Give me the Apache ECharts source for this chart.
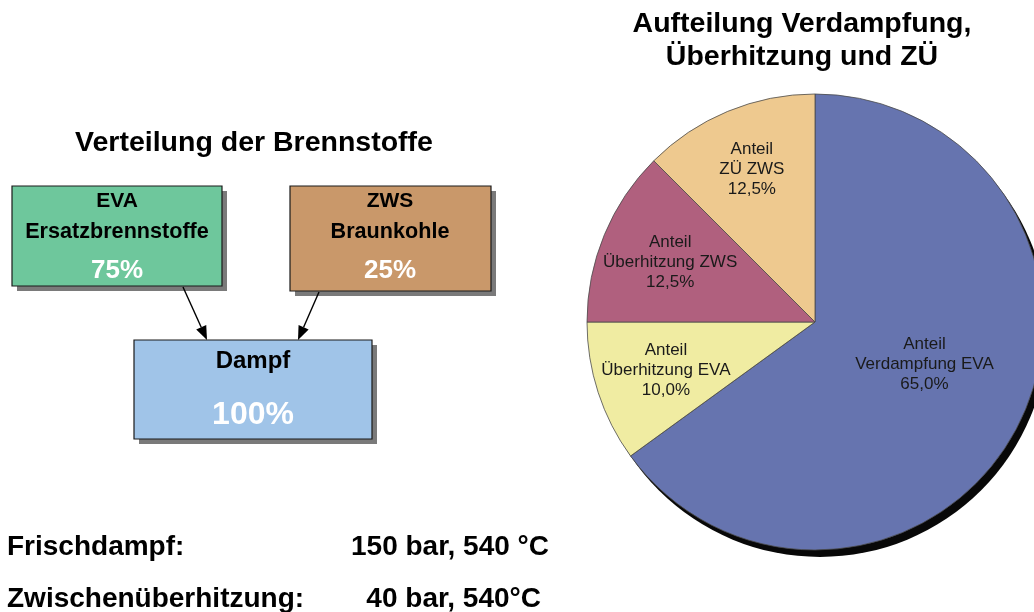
<!DOCTYPE html>
<html><head><meta charset="utf-8">
<script src="https://cdn.jsdelivr.net/npm/echarts@6/dist/echarts.min.js"></script>
<style>html,body{margin:0;padding:0;background:#fff}#c{width:1034px;height:612px}</style>
</head><body><div id="c"></div>
<script>
// ---- data ----
const pieNames = ['Anteil\nVerdampfung EVA', 'Anteil\nÜberhitzung EVA', 'Anteil\nÜberhitzung ZWS', 'Anteil\nZÜ ZWS'];
const pieValues = [65.0, 10.0, 12.5, 12.5];
const fuelTitles = ['EVA', 'ZWS'];
const fuelNames = ['Ersatzbrennstoffe', 'Braunkohle'];
const fuelShares = [75, 25];
const steamTitle = 'Dampf';
const paramLabels = ['Frischdampf:', 'Zwischenüberhitzung:'];
const paramValues = ['150 bar, 540 °C', '40 bar, 540°C'];

const FONT = '"Liberation Sans", Arial, Helvetica, sans-serif';
const pieColors = ['#6674AF', '#F0ECA2', '#B0607E', '#EEC98F'];
const boxColors = ['#6EC79C', '#C9986A'];
const cx = 815, cy = 322, R = 228;

const chart = echarts.init(document.getElementById('c'), null, {renderer: 'canvas'});

function txt(x, y, s, size, color, align) {
  return {type: 'text', z: 20, style: {x: x, y: y, text: s, fill: color || '#000',
    font: 'bold ' + size + 'px ' + FONT, textAlign: align || 'center', textVerticalAlign: 'middle'}};
}
function box(x, y, w, h, fill) {
  return [
    {type: 'rect', z: 5, shape: {x: x + 5, y: y + 5, width: w, height: h}, style: {fill: '#7a7a7a'}},
    {type: 'rect', z: 6, shape: {x: x, y: y, width: w, height: h}, style: {fill: fill, stroke: '#1a1a1a', lineWidth: 1.2}}
  ];
}
function arrow(x1, y1, x2, y2) {
  const a = Math.atan2(y2 - y1, x2 - x1), L = 14, W = 5.5;
  const bx = x2 - L * Math.cos(a), by = y2 - L * Math.sin(a);
  return [
    {type: 'line', z: 8, shape: {x1: x1, y1: y1, x2: bx, y2: by}, style: {stroke: '#000', lineWidth: 1.4}},
    {type: 'polygon', z: 8, shape: {points: [[x2, y2], [bx + W * Math.sin(a), by - W * Math.cos(a)], [bx - W * Math.sin(a), by + W * Math.cos(a)]]}, style: {fill: '#000'}}
  ];
}

const fmt = v => v.toFixed(1).replace('.', ',') + '%';
const total = fuelShares.reduce((a, b) => a + b, 0);

const graphics = [].concat(
  box(12, 186, 210, 100, boxColors[0]),
  box(290, 186, 201, 105, boxColors[1]),
  box(134, 340, 238, 99, '#A0C4E8'),
  arrow(183, 287, 207, 340),
  arrow(319, 292, 298, 340),
  [
    txt(254, 143, 'Verteilung der Brennstoffe', 28.5),
    txt(117, 201, fuelTitles[0], 21),
    txt(117, 232, fuelNames[0], 21.6),
    txt(117, 271, fuelShares[0] + '%', 26, '#ffffff'),
    txt(390, 201, fuelTitles[1], 21),
    txt(390, 232, fuelNames[1], 21.6),
    txt(390, 271, fuelShares[1] + '%', 26, '#ffffff'),
    txt(253, 361, steamTitle, 24),
    txt(253, 415, total + '%', 32, '#ffffff'),
    txt(7, 547, paramLabels[0], 28, '#000', 'left'),
    txt(549, 547, paramValues[0], 28, '#000', 'right'),
    txt(7, 599, paramLabels[1], 28, '#000', 'left'),
    txt(541, 599, paramValues[1], 28, '#000', 'right'),
    txt(802, 24, 'Aufteilung Verdampfung,', 28.5),
    txt(802, 57, 'Überhitzung und ZÜ', 28.5),
    {type: 'circle', z: -10, shape: {cx: cx + 5, cy: cy + 7, r: R}, style: {fill: '#080808'}}
  ]
);

const kOut = [0.05, 0.34, 0.34, 0.41];
const dyFix = [-13, 0, 0, 0];

chart.setOption({
  backgroundColor: '#ffffff',
  animation: false,
  graphic: {elements: graphics},
  series: [{
    type: 'pie',
    z: 2,
    center: [cx, cy],
    radius: R,
    startAngle: 90,
    clockwise: true,
    silent: true,
    data: pieNames.map((n, i) => ({name: n, value: pieValues[i], itemStyle: {color: pieColors[i]}})),
    itemStyle: {borderColor: '#4a4a4a', borderWidth: 0.8},
    label: {
      show: true, position: 'inside', color: '#1a1a1a', fontFamily: FONT, fontSize: 17, lineHeight: 20,
      formatter: p => p.name + '\n' + fmt(p.value)
    },
    labelLayout: function (p) {
      const r = p.labelRect;
      const lx = r.x + r.width / 2, ly = r.y + r.height / 2;
      const k = kOut[p.dataIndex];
      return {dx: (lx - cx) * k, dy: (ly - cy) * k + dyFix[p.dataIndex]};
    }
  }]
});
</script></body></html>
